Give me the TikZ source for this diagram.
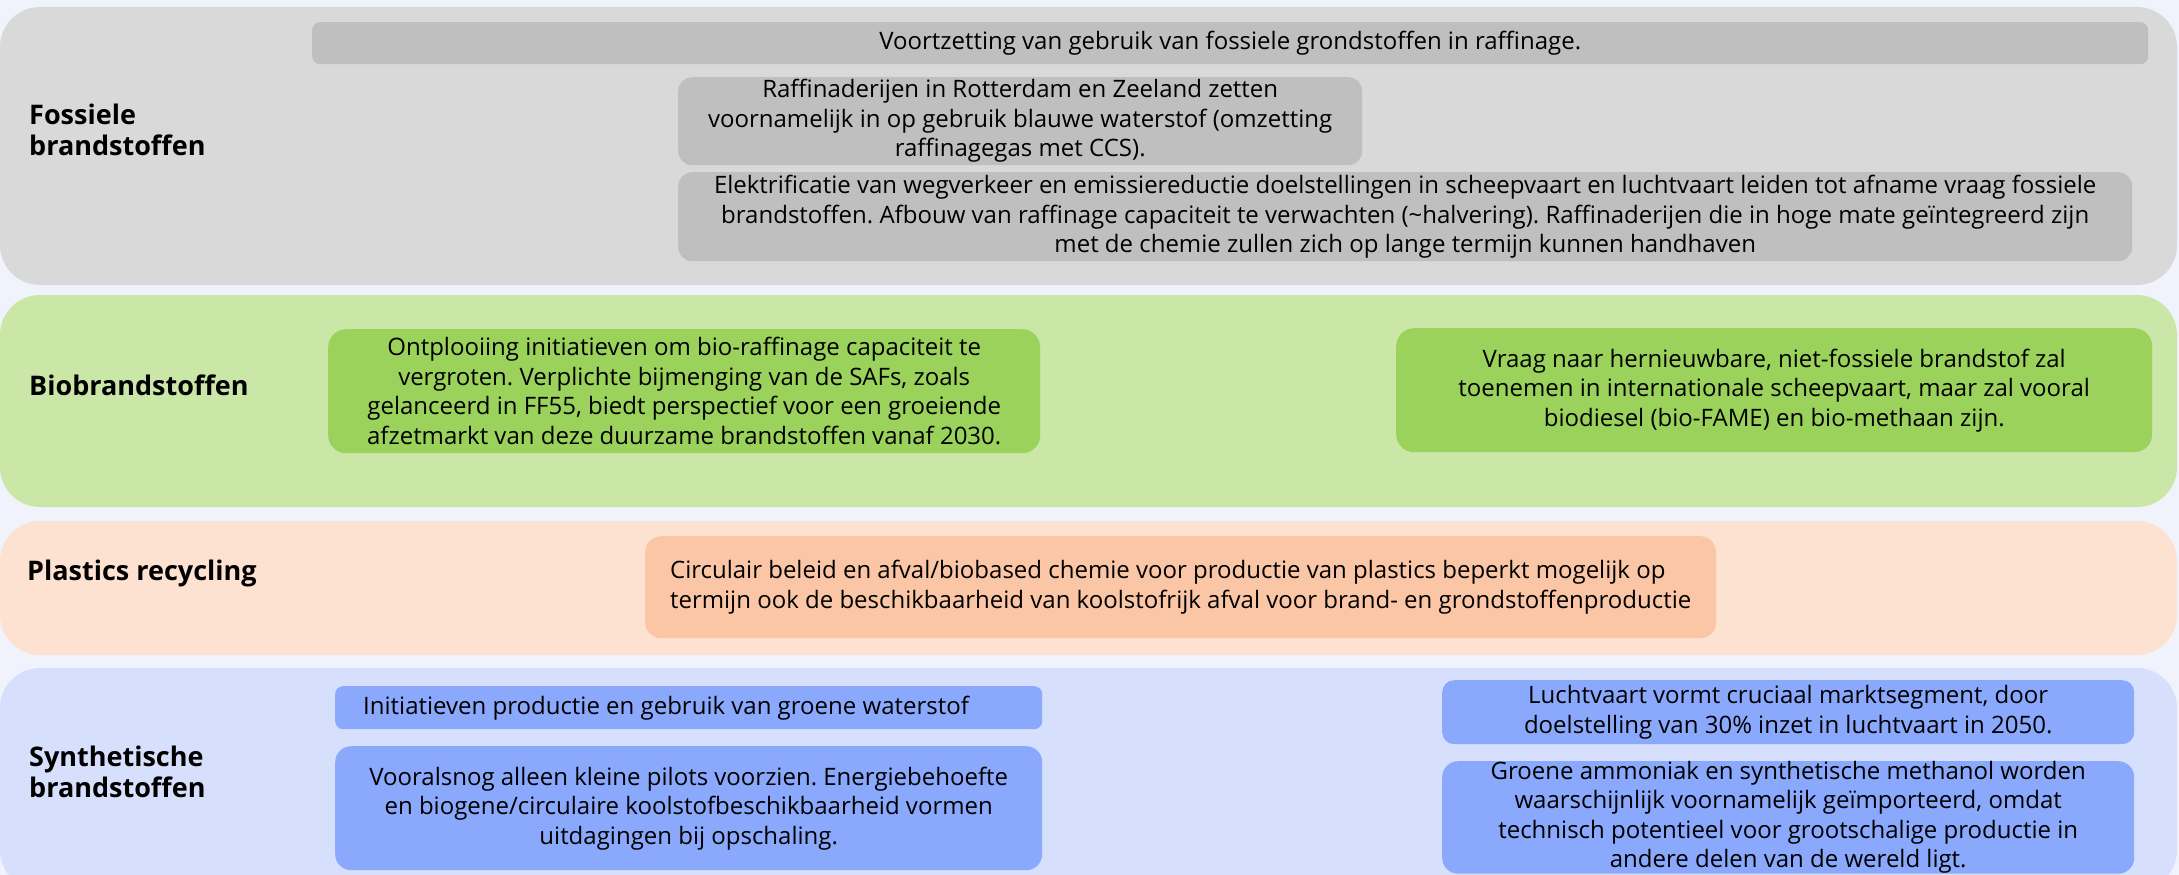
\documentclass[tikz,border=0pt]{standalone}
\usepackage{fontspec}
\setmainfont{Open Sans}
\frenchspacing
\usetikzlibrary{positioning}
\definecolor{achtergrond}{HTML}{F0F3FB}
\definecolor{grijsband}{HTML}{D9D9D9}
\definecolor{grijsvak}{HTML}{BFBFBF}
\definecolor{groenband}{HTML}{CBE7A8}
\definecolor{groenvak}{HTML}{9BD25C}
\definecolor{oranjeband}{HTML}{FDE2D1}
\definecolor{oranjevak}{HTML}{FBC6A6}
\definecolor{blauwband}{HTML}{D6E0FC}
\definecolor{blauwvak}{HTML}{8AA8FC}

\begin{document}
\begin{tikzpicture}[x=1pt,y=-1pt,
    band/.style={rounded corners=40pt},
    vak/.style={anchor=north west, inner sep=0pt, align=center,
        font=\fontsize{24}{29.5}\selectfont},
    tekst/.style={inner sep=0pt, align=left, font=\fontsize{24}{29.5}\selectfont},
    kop/.style={anchor=west, inner sep=0pt, align=left,
        font=\fontsize{27}{31}\selectfont\bfseries}]
        \useasboundingbox (0,0) rectangle (2179,875);
        \clip (0,0) rectangle (2179,875);
        %背景
        \fill [achtergrond] (0,0) rectangle (2179,875);
        \fill [grijsband,band] (0,7) rectangle (2177,285);
        \fill [groenband,band] (0,295) rectangle (2177,507);
        \fill [oranjeband,band] (0,521) rectangle (2177,655);
        \fill [blauwband,band] (0,668) rectangle (2177,890);

        %Fossiele brandstoffen
        \node [kop] (fossiel) at (29,130) {Fossiele\\brandstoffen};
        \node [vak,fill=grijsvak,rounded corners=8pt,minimum width=1836pt,minimum height=42pt] (f1) at (312,22)
            {Voortzetting van gebruik van fossiele grondstoffen in raffinage.};
        \node [vak,fill=grijsvak,rounded corners=14pt,minimum width=684pt,minimum height=88pt] (f2) at (678,77)
            {Raffinaderijen in Rotterdam en Zeeland zetten\\voornamelijk in op gebruik blauwe waterstof (omzetting\\raffinagegas met CCS).};
        \node [vak,fill=grijsvak,rounded corners=14pt,minimum width=1454pt,minimum height=89pt] (f3) at (678,172)
            {Elektrificatie van wegverkeer en emissiereductie doelstellingen in scheepvaart en luchtvaart leiden tot afname vraag fossiele\\brandstoffen. Afbouw van raffinage capaciteit te verwachten (\textasciitilde halvering). Raffinaderijen die in hoge mate geïntegreerd zijn\\met de chemie zullen zich op lange termijn kunnen handhaven};

        %Biobrandstoffen
        \node [kop] (bio) at (29,385) {Biobrandstoffen};
        \node [vak,fill=groenvak,rounded corners=18pt,minimum width=712pt,minimum height=124pt] (b1) at (328,329)
            {Ontplooiing initiatieven om bio-raffinage capaciteit te\\vergroten. Verplichte bijmenging van de SAFs, zoals\\gelanceerd in FF55, biedt perspectief voor een groeiende\\afzetmarkt van deze duurzame brandstoffen vanaf 2030.};
        \node [vak,fill=groenvak,rounded corners=18pt,minimum width=756pt,minimum height=124pt] (b2) at (1396,328)
            {Vraag naar hernieuwbare, niet-fossiele brandstof zal\\toenemen in internationale scheepvaart, maar zal vooral\\biodiesel (bio-FAME) en bio-methaan zijn.};

        %Plastics recycling
        \node [kop] (plastic) at (27,573) {Plastics recycling};
        \node [vak,fill=oranjevak,rounded corners=16pt,minimum width=1071pt,minimum height=102pt,align=left] (p1) at (645,536)
            {Circulair beleid en afval/biobased chemie voor productie van plastics beperkt mogelijk op\\termijn ook de beschikbaarheid van koolstofrijk afval voor brand- en grondstoffenproductie};

        %Synthetische brandstoffen
        \node [kop] (synth) at (29,772) {Synthetische\\brandstoffen};
        \node [vak,fill=blauwvak,rounded corners=8pt,minimum width=707pt,minimum height=43pt] (s1) at (335,686) {};
        \node [tekst,right=28pt of s1.west] (s1tekst) {Initiatieven productie en gebruik van groene waterstof};
        \node [vak,fill=blauwvak,rounded corners=16pt,minimum width=707pt,minimum height=124pt] (s2) at (335,746)
            {Vooralsnog alleen kleine pilots voorzien. Energiebehoefte\\en biogene/circulaire koolstofbeschikbaarheid vormen\\uitdagingen bij opschaling.};
        \node [vak,fill=blauwvak,rounded corners=12pt,minimum width=692pt,minimum height=64pt] (s3) at (1442,680)
            {Luchtvaart vormt cruciaal marktsegment, door\\doelstelling van 30\% inzet in luchtvaart in 2050.};
        \node [vak,fill=blauwvak,rounded corners=16pt,minimum width=692pt,minimum height=112pt] (s4) at (1442,761)
            {Groene ammoniak en synthetische methanol worden\\waarschijnlijk voornamelijk geïmporteerd, omdat\\technisch potentieel voor grootschalige productie in\\andere delen van de wereld ligt.};
\end{tikzpicture}
\end{document}
